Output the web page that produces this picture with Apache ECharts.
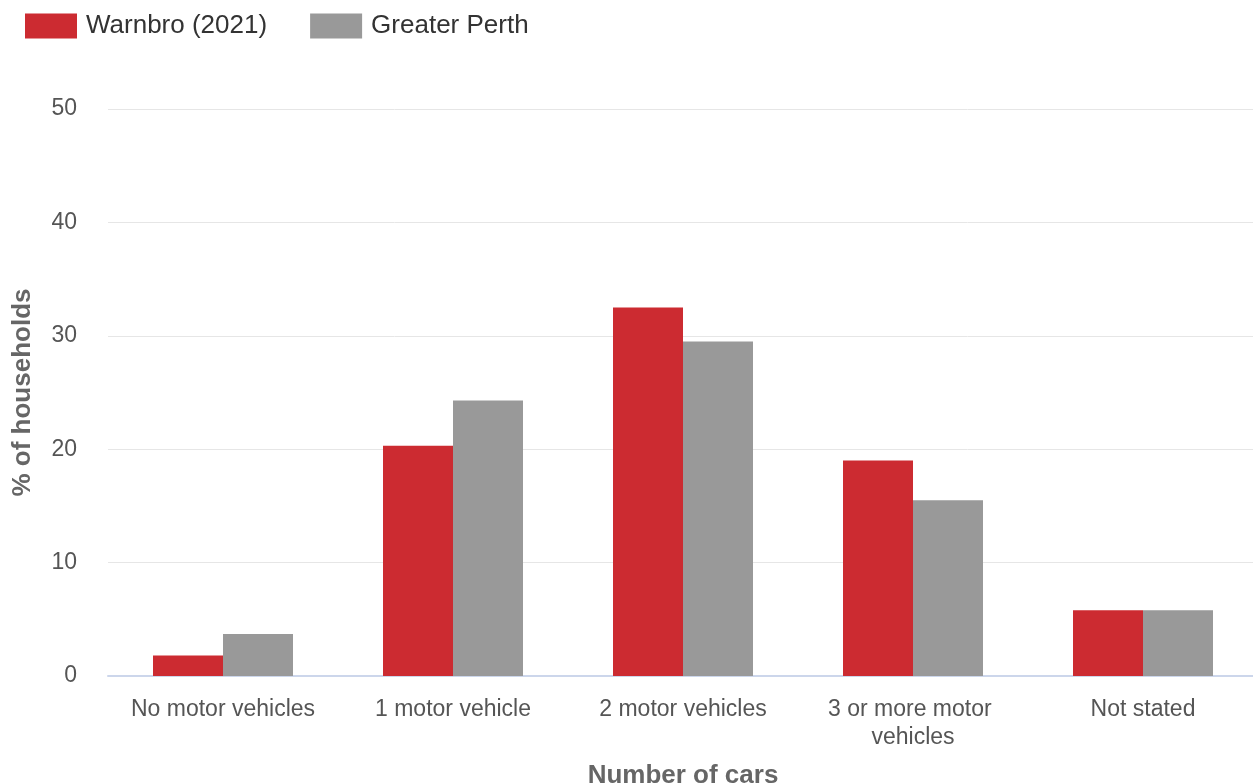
<!DOCTYPE html>
<html>
<head>
<meta charset="utf-8">
<script src="https://cdn.jsdelivr.net/npm/echarts@6/dist/echarts.min.js"></script>
<style>
  html, body { margin: 0; padding: 0; background: #fff; }
  #echarts { width: 1253px; height: 784px; }
</style>
</head>
<body>
<div id="echarts"></div>
<script type="text/javascript">
var categories = ['No motor vehicles', '1 motor vehicle', '2 motor vehicles', '3 or more motor vehicles', 'Not stated'];
var warnbro = [1.8, 20.3, 32.5, 19.0, 5.8];
var greaterPerth = [3.7, 24.3, 29.5, 15.5, 5.8];
var yTicks = [0, 10, 20, 30, 40, 50];

var thechart = echarts.init(document.getElementById('echarts'));
var theoption = {
    animation: false,
    textStyle: { fontFamily: 'Liberation Sans, Arial, sans-serif' },
    legend: {
        left: 20,
        top: 8,
        itemWidth: 52,
        itemHeight: 25,
        itemGap: 43,
        icon: 'rect',
        textStyle: { fontSize: 26, color: '#333', padding: [2, 0, 0, 4] },
        data: ['Warnbro (2021)', 'Greater Perth']
    },
    // plot area runs slightly past the right edge, as in the original
    grid: { left: 108, right: -5, top: 109, bottom: 108, containLabel: false, outerBoundsMode: 'none' },
    xAxis: [{
        type: 'category',
        data: categories,
        name: 'Number of cars',
        nameLocation: 'middle',
        nameGap: 87,
        nameTextStyle: { fontSize: 26, fontWeight: 'bold', color: '#666', verticalAlign: 'top' },
        axisLine: { lineStyle: { color: '#ccd6eb', width: 2 } },
        axisTick: { alignWithLabel: true, length: 20, lineStyle: { color: '#ccd6eb', width: 2 } },
        axisLabel: { fontSize: 23, color: '#555', margin: 20, width: 215, overflow: 'break', lineHeight: 28, interval: 0 }
    }],
    yAxis: [{
        type: 'value',
        min: yTicks[0],
        max: yTicks[yTicks.length - 1],
        interval: 10,
        name: '% of households',
        nameLocation: 'middle',
        nameGap: 72,
        nameTextStyle: { fontSize: 26, fontWeight: 'bold', color: '#666' },
        axisLabel: { fontSize: 23, color: '#555', margin: 31 },
        splitLine: { lineStyle: { color: '#e6e6e6', width: 1 } },
        axisLine: { show: false },
        axisTick: { show: false }
    }],
    series: [
        { name: 'Warnbro (2021)', type: 'bar', data: warnbro, barWidth: 70, barGap: '0%', itemStyle: { color: '#cc2b31' } },
        { name: 'Greater Perth', type: 'bar', data: greaterPerth, barWidth: 70, itemStyle: { color: '#999999' } }
    ]
};
thechart.setOption(theoption, true);
</script>
</body>
</html>
